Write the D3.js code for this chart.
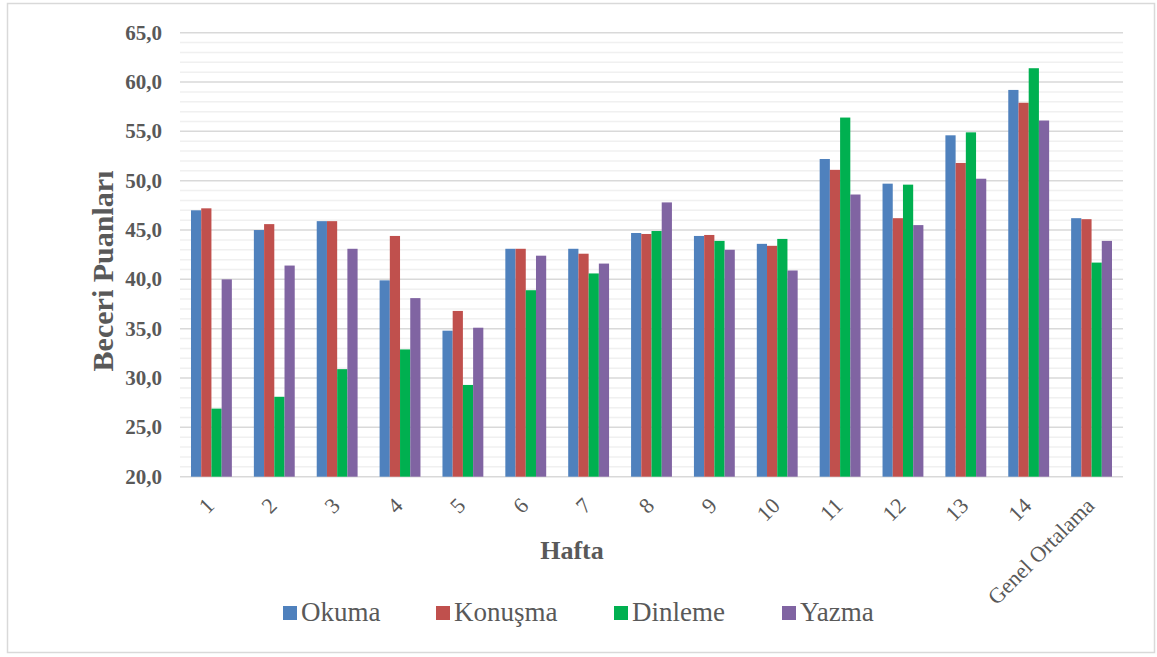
<!DOCTYPE html>
<html>
  <head>
    <style>
      body {
        margin: 0;
        background: #ffffff;
      }
      svg text {
        font-family: "Liberation Serif", "Times New Roman", serif;
        fill: #595959;
      }
    </style>
    <script src="https://d3js.org/d3.v7.min.js"></script>
  </head>

  <body>
    <script>
      const width = 1157;
      const height = 657;

      // chart data
      const weeks = ["1", "2", "3", "4", "5", "6", "7", "8", "9", "10", "11", "12", "13", "14", "Genel Ortalama"];
      const seriesNames = ["Okuma", "Konuşma", "Dinleme", "Yazma"];
      const okuma = [47.0, 45.0, 45.9, 39.9, 34.8, 43.1, 43.1, 44.7, 44.4, 43.6, 52.2, 49.7, 54.6, 59.2, 46.2];
      const konusma = [47.2, 45.6, 45.9, 44.4, 36.8, 43.1, 42.6, 44.6, 44.5, 43.4, 51.1, 46.2, 51.8, 57.9, 46.1];
      const dinleme = [26.9, 28.1, 30.9, 32.9, 29.3, 38.9, 40.6, 44.9, 43.9, 44.1, 56.4, 49.6, 54.9, 61.4, 41.7];
      const yazma = [40.0, 41.4, 43.1, 38.1, 35.1, 42.4, 41.6, 47.8, 43.0, 40.9, 48.6, 45.5, 50.2, 56.1, 43.9];
      const yTicks = [20, 25, 30, 35, 40, 45, 50, 55, 60, 65];

      const colors = ["#4f81bd", "#c0504d", "#00b050", "#8064a2"];
      const allSeries = [okuma, konusma, dinleme, yazma];

      const plotLeft = 180;
      const plotRight = 1123;
      const plotTop = 32.7;
      const plotBottom = 476.7;

      const svg = d3
        .select("body")
        .append("svg")
        .attr("width", width)
        .attr("height", height);

      // outer frame
      svg
        .append("rect")
        .attr("x", 7.5)
        .attr("y", 3.5)
        .attr("width", 1147)
        .attr("height", 649)
        .attr("fill", "#ffffff")
        .attr("stroke", "#d9d9d9")
        .attr("stroke-width", 1.5);

      const xScale = d3
        .scaleBand()
        .domain(weeks)
        .range([plotLeft, plotRight])
        .paddingInner(0.35)
        .paddingOuter(0.175);

      const xInner = d3
        .scaleBand()
        .domain(seriesNames)
        .range([0, xScale.bandwidth()]);

      const yScale = d3.scaleLinear().domain([20, 65]).range([plotBottom, plotTop]);

      // minor grid
      svg
        .append("g")
        .selectAll("line")
        .data(d3.range(21, 65, 1).filter((v) => v % 5 !== 0))
        .enter()
        .append("line")
        .attr("x1", plotLeft)
        .attr("x2", plotRight)
        .attr("y1", (d) => yScale(d))
        .attr("y2", (d) => yScale(d))
        .attr("stroke", "#f0f0f0")
        .attr("stroke-width", 1.5);

      // major grid
      svg
        .append("g")
        .selectAll("line")
        .data(yTicks)
        .enter()
        .append("line")
        .attr("x1", plotLeft)
        .attr("x2", plotRight)
        .attr("y1", (d) => yScale(d))
        .attr("y2", (d) => yScale(d))
        .attr("stroke", "#d9d9d9")
        .attr("stroke-width", 1.5);

      // y tick labels
      svg
        .append("g")
        .selectAll("text")
        .data(yTicks)
        .enter()
        .append("text")
        .attr("x", 162)
        .attr("y", (d) => yScale(d) + 7)
        .attr("text-anchor", "end")
        .style("font-size", "21px")
        .style("font-weight", "bold")
        .text((d) => d3.format(".1f")(d).replace(".", ","));

      // bars
      seriesNames.forEach((name, si) => {
        svg
          .append("g")
          .selectAll("rect")
          .data(allSeries[si])
          .enter()
          .append("rect")
          .attr("x", (d, i) => xScale(weeks[i]) + xInner(name))
          .attr("y", (d) => yScale(d))
          .attr("width", xInner.bandwidth())
          .attr("height", (d) => yScale(20) - yScale(d))
          .attr("fill", colors[si]);
      });

      // x tick labels
      svg
        .append("g")
        .selectAll("text")
        .data(weeks)
        .enter()
        .append("text")
        .attr("text-anchor", "end")
        .attr("transform", (d) => {
          const cx = xScale(d) + xScale.bandwidth() / 2 + 4;
          return "translate(" + cx + ",507) rotate(-45)";
        })
        .style("font-size", "22px")
        .text((d) => d);

      // axis titles
      svg
        .append("text")
        .attr("x", 572)
        .attr("y", 559)
        .attr("text-anchor", "middle")
        .style("font-size", "26px")
        .style("font-weight", "bold")
        .text("Hafta");

      svg
        .append("text")
        .attr("transform", "translate(113,271) rotate(-90)")
        .attr("text-anchor", "middle")
        .style("font-size", "30px")
        .style("font-weight", "bold")
        .text("Beceri Puanları");

      // legend
      const legendX = [283, 436, 614, 782];
      const legend = svg
        .append("g")
        .selectAll("g")
        .data(seriesNames)
        .enter()
        .append("g")
        .attr("transform", (d, i) => "translate(" + legendX[i] + ",606)");

      legend
        .append("rect")
        .attr("width", 14)
        .attr("height", 14)
        .attr("fill", (d, i) => colors[i]);

      legend
        .append("text")
        .attr("x", 18)
        .attr("y", 15)
        .style("font-size", "27px")
        .text((d) => d);
    </script>
  </body>
</html>
